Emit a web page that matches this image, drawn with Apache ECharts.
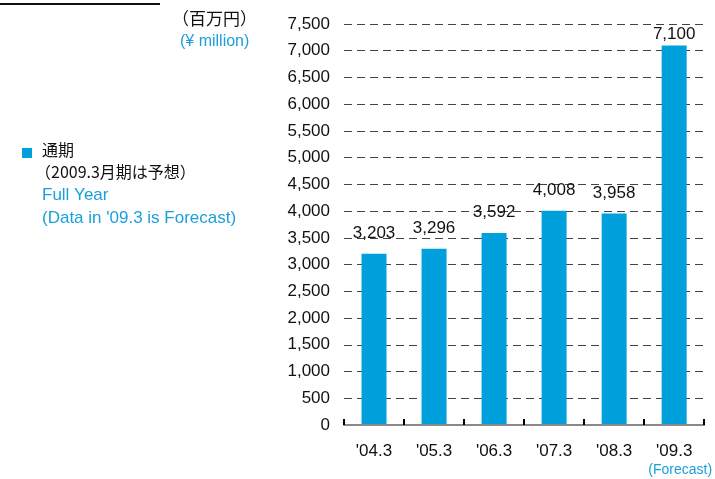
<!DOCTYPE html>
<html>
<head>
<meta charset="utf-8">
<script src="https://cdn.jsdelivr.net/npm/echarts@6/dist/echarts.min.js"></script>
<style>
html,body{margin:0;padding:0;background:#fff;}
#c{width:715px;height:479px;}
</style>
</head>
<body>
<div id="c"></div>
<script>
const categories = ["'04.3", "'05.3", "'06.3", "'07.3", "'08.3", "'09.3"];
const values = [3203, 3296, 3592, 4008, 3958, 7100];
const yMin = 0, yMax = 7500, yInterval = 500;
const BLUE = '#00a0dc';
const TEXT_BLUE = '#1a9fdc';
const FONT = 'Liberation Sans, Arial, sans-serif';
const CJK = '"Noto Sans CJK JP", sans-serif';

const barData = values.map(function (v, i) {
  return i === values.length - 1 ? {value: v, label: {distance: 3}} : v;
});

const chart = echarts.init(document.getElementById('c'));
chart.setOption({
  animation: false,
  grid: {left: 344, right: 10, top: 24, bottom: 54, containLabel: false},
  xAxis: {
    type: 'category',
    data: categories,
    boundaryGap: true,
    z: 10,
    axisLine: {show: true, onZero: false, lineStyle: {color: '#8a8a8a', width: 2}},
    axisTick: {show: true, interval: 0, inside: true, length: 6, lineStyle: {color: '#000', width: 2}},
    axisLabel: {
      interval: 0,
      margin: 17,
      color: '#111',
      fontFamily: FONT,
      fontSize: 17,
      formatter: function (v, i) {
        return i === categories.length - 1 ? '{a|' + v + '}\n{b|(Forecast)}' : '{a|' + v + '}';
      },
      rich: {
        a: {fontSize: 17, fontFamily: FONT, color: '#111', lineHeight: 18},
        b: {fontSize: 14, fontFamily: FONT, color: TEXT_BLUE, lineHeight: 20, padding: [0, 0, 0, 12]}
      }
    }
  },
  yAxis: {
    type: 'value',
    min: yMin, max: yMax, interval: yInterval,
    axisLine: {show: false},
    axisTick: {show: false},
    axisLabel: {
      margin: 14,
      color: '#111',
      fontFamily: FONT,
      fontSize: 17,
      formatter: function (v) { return v.toLocaleString('en-US'); }
    },
    splitLine: {lineStyle: {color: '#444', type: [8, 5], width: 1}}
  },
  series: [{
    type: 'bar',
    data: barData,
    barWidth: 25,
    itemStyle: {color: BLUE},
    label: {
      show: true,
      position: 'top',
      distance: 12,
      color: '#111',
      fontFamily: FONT,
      fontSize: 17,
      formatter: function (p) { return p.value.toLocaleString('en-US'); }
    }
  }],
  graphic: [
    {type: 'line', shape: {x1: 0, y1: 4, x2: 160, y2: 4}, style: {stroke: '#111', lineWidth: 2}},
    {type: 'text', left: 172, top: 10, style: {text: '（百万円）', font: '17px ' + CJK, fill: '#111'}},
    {type: 'text', left: 180, top: 34, style: {text: '(¥ million)', font: '16px ' + FONT, fill: TEXT_BLUE}},
    {type: 'rect', shape: {x: 22, y: 148, width: 10, height: 10}, style: {fill: BLUE}},
    {type: 'text', left: 42, top: 142, style: {text: '通期', font: '16px ' + CJK, fill: '#111'}},
    {type: 'text', left: 35, top: 164, style: {text: '（2009.3月期は予想）', font: '16px ' + CJK, fill: '#111'}},
    {type: 'text', left: 42, top: 187, style: {text: 'Full Year', font: '17px ' + FONT, fill: TEXT_BLUE}},
    {type: 'text', left: 42, top: 210, style: {text: "(Data in '09.3 is Forecast)", font: '17px ' + FONT, fill: TEXT_BLUE}}
  ]
});
</script>
</body>
</html>
